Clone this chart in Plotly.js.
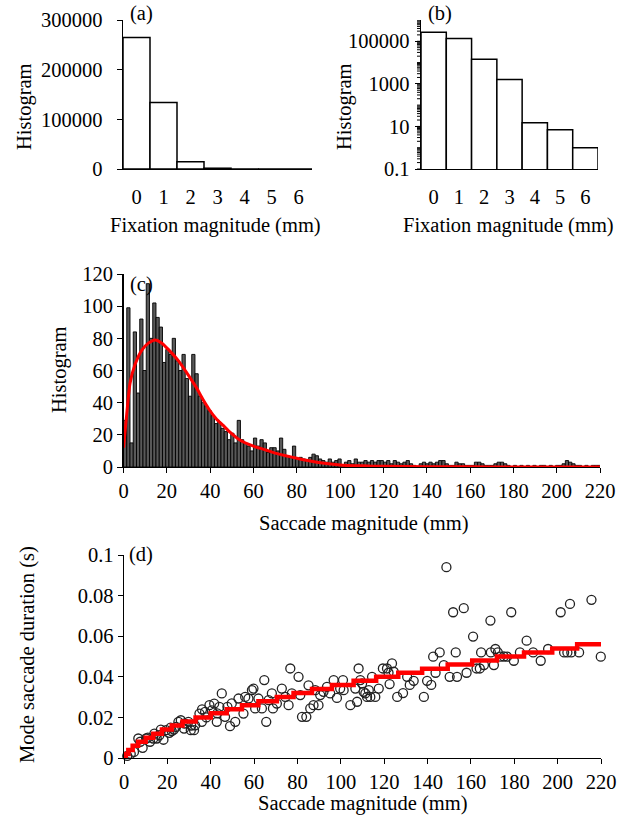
<!DOCTYPE html>
<html><head><meta charset="utf-8">
<script src="https://cdn.plot.ly/plotly-3.0.1.min.js"></script>
<style>html,body{margin:0;padding:0;background:#fff}#chart{width:638px;height:826px}</style>
</head><body><div id="chart"></div>
<script>
// ---------- data ----------
const fixCategories = [0, 1, 2, 3, 4, 5, 6];
const fixCounts = [265000, 134000, 14500, 1600, 15, 7, 1];
const fixLinTicks = [0, 100000, 200000, 300000];
const fixLinTickText = ['0', '100000', '200000', '300000'];
const fixLogTicks = [0.1, 10, 1000, 100000];
const fixLogTickText = ['0.1', '10', '1000', '100000'];

const sacBinWidth = 1.5;
const sacCounts = [
  29, 99, 15, 84, 46, 92, 60, 114, 80, 102, 93, 87, 65, 73,
  70, 80, 66, 60, 70, 55, 44, 70, 58,
  44, 40, 38, 35, 32, 27, 28, 24, 22, 17, 21, 15, 29, 17, 15, 13, 10, 18, 13, 17, 15, 9, 12,
  12, 10, 18, 11, 7, 6, 13, 5, 6, 5, 4, 6, 8, 7, 5, 4, 3, 5, 3, 4, 5, 1, 3, 4, 2, 5, 3, 3, 4, 3, 4, 3, 4,
  4, 3, 4, 2, 4, 3, 2, 3, 4, 2, 1, 0, 2, 3, 2, 3, 2, 3, 4, 4, 2, 1, 1, 3, 2, 2, 1, 1, 1, 3, 3, 2, 1, 1,
  1, 2, 3, 3, 2, 1, 0, 1, 0, 1, 0, 1, 0, 1, 0, 1, 1, 0, 1, 0, 1, 1, 2, 4, 3, 2, 1, 1, 0, 1, 0, 1, 1, 1
];
const sacFitX = [0, 1.5, 3, 5.4, 8.5, 11.5, 14.6, 17.7, 20.8, 25.4, 30, 33.6, 36.7, 39.8, 42.8, 45.9, 48.9, 53.5, 60, 65.7, 71, 80, 90, 100, 110, 120, 140, 160, 180, 200, 220];
const sacFitY = [12, 33, 52, 64, 72.7, 77, 79, 77, 73, 66, 57, 49.5, 42, 35.3, 30, 26, 22, 17, 13, 10.6, 8.3, 5.4, 2.8, 1.3, 0.7, 0.4, 0.2, 0.1, 0.05, 0.03, 0.02];
const sacXTicks = [0, 20, 40, 60, 80, 100, 120, 140, 160, 180, 200, 220];
const sacYTicks = [0, 20, 40, 60, 80, 100, 120];

const durX = [
  1.5, 3.1, 4.6, 6.6, 7.5, 8.6, 10.2, 11, 12, 13.5, 14, 15.1, 16.3, 17, 18.2, 19.4, 20.9, 21.5, 22, 23, 24, 25.1, 26.2, 27.7, 28, 29.7,
  30.8, 31, 32.3, 32.8, 34.8, 35.9, 36, 37.4, 38, 39.4, 40.5, 41.6, 42.8, 43, 44, 45.1, 46.6, 47.7, 48.9,
  49.7, 51.3, 52.8, 55.1, 55.9, 57.4, 59, 59.7, 60.5, 62, 63.6, 64.7, 65.6, 66.7, 68.2, 68.7, 70.5, 72.8, 74.4, 75.9, 76.7, 77.4,
  80.5, 81.3, 82.1, 84.1, 85.1, 85.9, 87.4, 88.2, 89.7, 90.5, 92, 93.6, 95.1, 96.7, 98.2, 99.7, 101, 101.3, 104.4, 106.7, 107.5, 108.2, 109, 109.8,
  110.5, 111.3, 112.1, 112.9, 113.6, 114.4, 115.9, 117.5, 119.4, 121.3, 122, 122.5, 123.6, 124.4, 126, 128.7, 130.6, 131.8, 133.6, 138.3, 139.8,
  141.7, 142.6, 143.7, 145.6, 147.5, 148.7, 150.2, 151.8, 153, 153.6, 156.7, 158, 161, 162.6, 164.1, 164.7, 166, 169, 169.2, 170.6, 171.3,
  172.4, 173.6, 175.2, 176.7, 178.6, 179.8, 182.6, 185.7, 188.7, 192.2, 195.6, 201.4, 203, 204.5, 205.7, 206.3, 209.9, 215.6, 219.9
];
const durY = [
  0.001, 0.002, 0.003, 0.0096, 0.008, 0.005, 0.0096, 0.01, 0.008, 0.0096, 0.012, 0.0096, 0.0112, 0.014, 0.009, 0.0137, 0.0124, 0.015, 0.0133, 0.014, 0.0153, 0.0178, 0.0186, 0.0145, 0.017, 0.0178,
  0.0137, 0.016, 0.0137, 0.0161, 0.0219, 0.0178, 0.024, 0.0227, 0.02, 0.026, 0.0235, 0.0268, 0.0178, 0.022, 0.0252, 0.0318, 0.0203, 0.0252, 0.0157,
  0.0269, 0.0178, 0.0293, 0.0219, 0.0301, 0.0293, 0.0334, 0.0342, 0.0244, 0.0293, 0.0244, 0.0384, 0.0178, 0.0285, 0.0318, 0.0244, 0.0268, 0.0342, 0.0301, 0.026, 0.0441, 0.0318,
  0.04, 0.031, 0.0203, 0.0203, 0.0358, 0.0244, 0.026, 0.0334, 0.026, 0.031, 0.0326, 0.035, 0.0318, 0.0384, 0.0296, 0.0342, 0.0384, 0.0334, 0.026, 0.0342, 0.0277, 0.0441, 0.0384, 0.0367,
  0.0326, 0.0318, 0.0301, 0.0334, 0.0301, 0.04, 0.0301, 0.0342, 0.0441, 0.0441, 0.042, 0.0364, 0.0466, 0.0425, 0.0301, 0.032, 0.04, 0.036, 0.038, 0.0301, 0.038,
  0.036, 0.0499, 0.042, 0.052, 0.0458, 0.094, 0.04, 0.0718, 0.052, 0.04, 0.0738, 0.042, 0.0598, 0.0441, 0.0441, 0.052, 0.0458, 0.0677, 0.052, 0.0458, 0.0537,
  0.052, 0.0499, 0.05, 0.0499, 0.0718, 0.0479, 0.052, 0.0578, 0.052, 0.0479, 0.0537, 0.0718, 0.052, 0.052, 0.0759, 0.052, 0.052, 0.0779, 0.0499
];
const stepX = [0, 0.8, 2, 4, 6.5, 10, 13.5, 17.5, 22, 27, 33, 40, 47.4, 54.4, 62, 70.5, 78.2, 86.7, 95.9, 105.9, 116.3, 126.5, 137.5, 149.3, 160.6, 172, 184.5, 197.5, 209, 220];
const stepY = [0, 0.002, 0.004, 0.006, 0.008, 0.010, 0.012, 0.014, 0.016, 0.018, 0.020, 0.022, 0.024, 0.026, 0.028, 0.030, 0.032, 0.034, 0.036, 0.038, 0.040, 0.042, 0.044, 0.046, 0.048, 0.050, 0.052, 0.054, 0.056, 0.056];
const durYTicks = [0, 0.02, 0.04, 0.06, 0.08, 0.1];
const durYTickText = ['0', '0.02', '0.04', '0.06', '0.08', '0.1'];

// ---------- helpers ----------
const W = 638, H = 826;
const px = v => v / W;
const py = v => 1 - v / H;
const FONT = '"Liberation Serif", "Times New Roman", serif';
const FS = 20.5;

const sacX = sacCounts.map((_, i) => i * sacBinWidth + sacBinWidth / 2);

// minor tick marks of the log axis in panel (b): 1..9 x 10^k, drawn as short axis-side strokes
const minorShapes = [];
for (let k = -1; k <= 5; k++) {
  for (let m = 1; m <= 9; m++) {
    const v = m * Math.pow(10, k);
    minorShapes.push({ type: 'line', xref: 'x2 domain', yref: 'y2', x0: -4 / 177, x1: 0, y0: v, y1: v,
      line: { color: '#000', width: 1 }, layer: 'above' });
  }
}
minorShapes.push({ type: 'line', xref: 'x2 domain', yref: 'y2', x0: -4 / 177, x1: 0, y0: 1e6, y1: 1e6,
  line: { color: '#000', width: 1 }, layer: 'above' });

const traces = [
  { type: 'bar', x: fixCategories, y: fixCounts, xaxis: 'x', yaxis: 'y',
    marker: { color: '#ffffff', line: { color: '#000', width: 1.5 } }, width: 1 },
  { type: 'bar', x: fixCategories, y: fixCounts, xaxis: 'x2', yaxis: 'y2',
    marker: { color: '#ffffff', line: { color: '#000', width: 1.5 } }, width: 1 },
  { type: 'bar', x: sacX, y: sacCounts, xaxis: 'x3', yaxis: 'y3', width: sacBinWidth,
    marker: { color: '#595959', line: { color: '#000', width: 0.9 } } },
  { type: 'scatter', mode: 'lines', x: sacFitX, y: sacFitY, xaxis: 'x3', yaxis: 'y3',
    line: { color: '#ff0000', width: 3, shape: 'spline', smoothing: 0.6 } },
  { type: 'scatter', mode: 'markers', x: durX, y: durY, xaxis: 'x4', yaxis: 'y4', cliponaxis: false,
    marker: { symbol: 'circle-open', size: 9, color: '#222', line: { width: 1.3, color: '#222' } } },
  { type: 'scatter', mode: 'lines', x: stepX, y: stepY, xaxis: 'x4', yaxis: 'y4',
    line: { color: '#ff0000', width: 4.5, shape: 'hv' } }
];

const axBase = {
  showline: true, linecolor: '#000', linewidth: 1.3, showgrid: false, zeroline: false,
  tickfont: { family: FONT, size: FS, color: '#000' }, tickcolor: '#000', fixedrange: true
};

const layout = {
  width: W, height: H, showlegend: false, bargap: 0,
  paper_bgcolor: '#fff', plot_bgcolor: '#fff',
  margin: { l: 0, r: 0, t: 0, b: 0 },
  font: { family: FONT, size: FS, color: '#000' },
  xaxis: Object.assign({}, axBase, { domain: [px(123), px(312)], anchor: 'y', range: [-0.5, 6.5],
    tickmode: 'array', tickvals: fixCategories, ticks: '', ticklabelstandoff: 9 }),
  yaxis: Object.assign({}, axBase, { domain: [py(169), py(20)], anchor: 'x', range: [0, 300000],
    tickmode: 'array', tickvals: fixLinTicks, ticktext: fixLinTickText, ticks: 'outside', ticklen: 5, ticklabelstandoff: 10 }),
  xaxis2: Object.assign({}, axBase, { domain: [px(421), px(598)], anchor: 'y2', range: [-0.5, 6.5],
    tickmode: 'array', tickvals: fixCategories, ticks: '', ticklabelstandoff: 9 }),
  yaxis2: Object.assign({}, axBase, { domain: [py(169), py(20)], anchor: 'x2', type: 'log', range: [-1, 6],
    tickmode: 'array', tickvals: fixLogTicks, ticktext: fixLogTickText, ticks: 'outside', ticklen: 5, ticklabelstandoff: 1 }),
  xaxis3: Object.assign({}, axBase, { domain: [px(123.5), px(600)], anchor: 'y3', range: [0, 220],
    tickmode: 'array', tickvals: sacXTicks, ticks: 'outside', ticklen: 5 }),
  yaxis3: Object.assign({}, axBase, { domain: [py(467), py(274)], anchor: 'x3', range: [0, 120],
    tickmode: 'array', tickvals: sacYTicks, ticks: 'outside', ticklen: 5 }),
  xaxis4: Object.assign({}, axBase, { domain: [px(124), px(601)], anchor: 'y4', range: [0, 220],
    tickmode: 'array', tickvals: sacXTicks, ticks: 'outside', ticklen: 5 }),
  yaxis4: Object.assign({}, axBase, { domain: [py(758), py(555)], anchor: 'x4', range: [0, 0.1],
    tickmode: 'array', tickvals: durYTicks, ticktext: durYTickText, ticks: 'outside', ticklen: 5 }),
  shapes: minorShapes,
  annotations: [
    { text: '(a)', x: px(141), y: py(13) },
    { text: '(b)', x: px(440), y: py(13) },
    { text: '(c)', x: px(141), y: py(285) },
    { text: '(d)', x: px(141), y: py(554) },
    { text: 'Histogram', x: px(24), y: py(107), textangle: -90 },
    { text: 'Histogram', x: px(344), y: py(107), textangle: -90 },
    { text: 'Histogram', x: px(59), y: py(370), textangle: -90 },
    { text: 'Mode saccade duration (s)', x: px(27), y: py(655), textangle: -90 },
    { text: 'Fixation magnitude (mm)', x: px(215), y: py(226) },
    { text: 'Fixation magnitude (mm)', x: px(508), y: py(226) },
    { text: 'Saccade magnitude (mm)', x: px(363), y: py(523) },
    { text: 'Saccade magnitude (mm)', x: px(362), y: py(803) }
  ].map(a => Object.assign({ xref: 'paper', yref: 'paper', showarrow: false,
    xanchor: 'center', yanchor: 'middle', font: { family: FONT, size: FS, color: '#000' } }, a))
};

Plotly.newPlot('chart', traces, layout, { staticPlot: true, displayModeBar: false });
</script>
</body></html>
